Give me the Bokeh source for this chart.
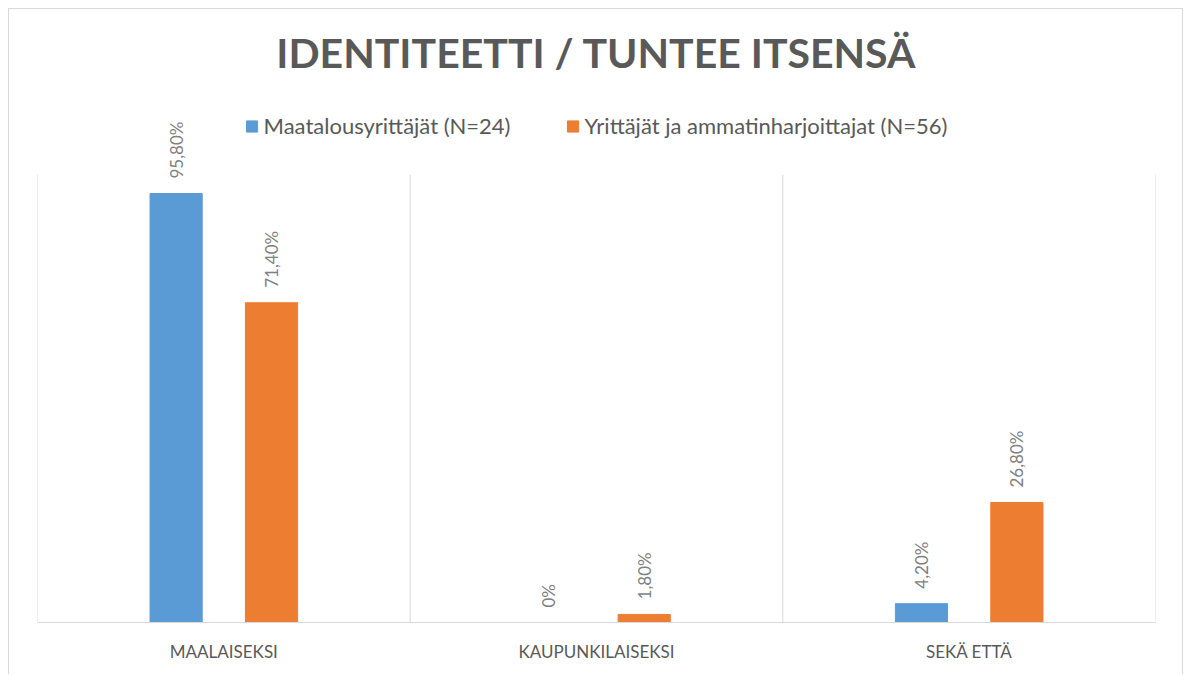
from math import pi
from bokeh.plotting import figure
from bokeh.models import FactorRange, Range1d, ColumnDataSource, Legend, LegendItem
from bokeh.transform import dodge
from bokeh.core.properties import value
from bokeh.embed import file_html
from bokeh.resources import INLINE

# ---- data ----
categories = ["MAALAISEKSI", "KAUPUNKILAISEKSI", "SEKÄ ETTÄ"]
series_names = ["Maatalousyrittäjät (N=24)", "Yrittäjät ja ammatinharjoittajat (N=56)"]
maatalous = [95.8, 0.0, 4.2]
yrittajat = [71.4, 1.8, 26.8]
maatalous_labels = ["95,80%", "0%", "4,20%"]
yrittajat_labels = ["71,40%", "1,80%", "26,80%"]
title_text = "IDENTITEETTI / TUNTEE ITSENSÄ"

BLUE = "#5B9BD5"
ORANGE = "#ED7D31"
GRID = "#d9d9d9"
TXT = "#595959"
LBL = "#7f7f7f"
FONT = "Lato"

src = ColumnDataSource(dict(cat=categories, a=maatalous, b=yrittajat,
                            la=maatalous_labels, lb=yrittajat_labels))

p = figure(x_range=FactorRange(factors=categories, range_padding=0),
           y_range=Range1d(0, 119.25),
           width=1175, height=666, output_backend="svg", toolbar_location=None,
           min_border_left=28, min_border_right=29, min_border_bottom=53,
           min_border_top=79)

p.styles = {"margin-left": "8px", "margin-top": "8px",
            "border-top": "1px solid #d9d9d9",
            "border-left": "1px solid #d9d9d9",
            "border-right": "1px solid #d9d9d9"}

# category separators (boundaries between categories)
bounds = list(range(len(categories) + 1))
p.segment(x0=bounds, y0=[0] * len(bounds), x1=bounds, y1=[100] * len(bounds),
          line_color=GRID, line_width=1)

r1 = p.vbar(x=dodge("cat", -0.128, range=p.x_range), top="a", width=0.14,
            source=src, fill_color=BLUE, line_color=BLUE)
r2 = p.vbar(x=dodge("cat", 0.128, range=p.x_range), top="b", width=0.14,
            source=src, fill_color=ORANGE, line_color=ORANGE)

common = dict(angle=pi / 2, text_align="left", text_baseline="middle",
              y_offset=-15, text_font=value(FONT), text_font_size="17px",
              text_color=LBL, source=src)
p.text(x=dodge("cat", -0.128, range=p.x_range), y="a", text="la", **common)
p.text(x=dodge("cat", 0.128, range=p.x_range), y="b", text="lb", **common)

legend = Legend(items=[LegendItem(label=series_names[0], renderers=[r1]),
                       LegendItem(label=series_names[1], renderers=[r2])],
                orientation="horizontal", location="top_center",
                glyph_width=14, glyph_height=14, label_standoff=5, spacing=55,
                padding=0, margin=24, border_line_color=None,
                background_fill_alpha=0,
                label_text_font=FONT, label_text_font_size="22px",
                label_text_color=TXT)
p.add_layout(legend)

p.title.text = title_text
p.title.align = "center"
p.title.text_font = FONT
p.title.text_font_style = "bold"
p.title.text_font_size = "41px"
p.title.text_color = TXT
p.title.standoff = 23

p.yaxis.visible = False
p.xgrid.visible = False
p.ygrid.visible = False
p.outline_line_color = None
p.xaxis.axis_line_color = GRID
p.xaxis.major_tick_line_color = None
p.xaxis.minor_tick_line_color = None
p.xaxis.major_label_text_font = FONT
p.xaxis.major_label_text_font_size = "17px"
p.xaxis.major_label_text_color = TXT
p.xaxis.major_label_standoff = 12

open("out.html", "w").write(file_html(p, INLINE))
